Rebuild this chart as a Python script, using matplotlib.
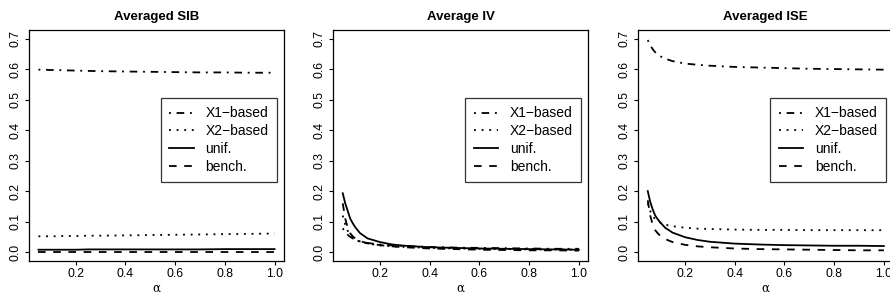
import numpy as np
import matplotlib
matplotlib.use("Agg")
import matplotlib.pyplot as plt

# grid of alpha values
alpha = [0.05, 0.06, 0.07, 0.08, 0.09, 0.10, 0.12, 0.15, 0.20, 0.25,
         0.30, 0.40, 0.50, 0.60, 0.70, 0.80, 0.90, 1.00]

# Averaged SIB
sib_x1 = [0.598, 0.598, 0.598, 0.598, 0.597, 0.597, 0.597, 0.596, 0.595, 0.594,
          0.593, 0.592, 0.591, 0.590, 0.589, 0.589, 0.588, 0.588]
sib_x2 = [0.052, 0.052, 0.052, 0.052, 0.052, 0.052, 0.052, 0.053, 0.053, 0.054,
          0.054, 0.055, 0.056, 0.057, 0.058, 0.059, 0.060, 0.061]
sib_unif = [0.008, 0.008, 0.008, 0.008, 0.008, 0.008, 0.008, 0.008, 0.008, 0.009,
            0.009, 0.009, 0.009, 0.009, 0.009, 0.010, 0.010, 0.010]
sib_bench = [0.001, 0.001, 0.001, 0.001, 0.001, 0.001, 0.001, 0.001, 0.001, 0.001,
             0.001, 0.001, 0.001, 0.001, 0.001, 0.001, 0.001, 0.001]

# Average IV
iv_x1 = [0.078, 0.065, 0.057, 0.050, 0.045, 0.041, 0.035, 0.030, 0.025, 0.022,
         0.020, 0.017, 0.015, 0.014, 0.013, 0.012, 0.011, 0.011]
iv_x2 = [0.120, 0.090, 0.070, 0.055, 0.047, 0.041, 0.034, 0.028, 0.022, 0.019,
         0.017, 0.014, 0.012, 0.011, 0.010, 0.009, 0.009, 0.008]
iv_unif = [0.193, 0.160, 0.135, 0.110, 0.095, 0.082, 0.062, 0.045, 0.033, 0.025,
           0.021, 0.016, 0.014, 0.012, 0.011, 0.010, 0.009, 0.008]
iv_bench = [0.160, 0.110, 0.080, 0.062, 0.052, 0.045, 0.036, 0.029, 0.023, 0.019,
            0.016, 0.012, 0.010, 0.008, 0.007, 0.006, 0.006, 0.005]

# Averaged ISE
ise_x1 = [0.695, 0.678, 0.665, 0.655, 0.648, 0.642, 0.634, 0.626, 0.618, 0.614,
          0.611, 0.607, 0.605, 0.603, 0.601, 0.600, 0.599, 0.598]
ise_x2 = [0.160, 0.135, 0.118, 0.108, 0.101, 0.097, 0.090, 0.085, 0.080, 0.077,
          0.076, 0.074, 0.073, 0.073, 0.072, 0.072, 0.072, 0.072]
ise_unif = [0.200, 0.165, 0.140, 0.120, 0.108, 0.098, 0.080, 0.064, 0.049, 0.040,
            0.034, 0.028, 0.025, 0.023, 0.022, 0.021, 0.021, 0.020]
ise_bench = [0.170, 0.120, 0.090, 0.072, 0.062, 0.054, 0.043, 0.033, 0.024, 0.019,
             0.016, 0.012, 0.010, 0.009, 0.008, 0.007, 0.006, 0.006]

labels = ["X1\u2212based", "X2\u2212based", "unif.", "bench."]
titles = ["Averaged SIB", "Average IV", "Averaged ISE"]

plt.rcParams['font.family'] = ['Liberation Sans', 'DejaVu Sans']
plt.rcParams['lines.scale_dashes'] = False

# R style line types (in points)
u = 1.37
styles = [(0, (u, 3 * u, 4 * u, 3 * u)),   # dotdash
          (0, (u, 3 * u)),                 # dotted
          '-',                             # solid
          (0, (4 * u, 4 * u))]             # dashed

panels = [
    [sib_x1, sib_x2, sib_unif, sib_bench],
    [iv_x1, iv_x2, iv_unif, iv_bench],
    [ise_x1, ise_x2, ise_unif, ise_bench],
]

fig = plt.figure(figsize=(8.9, 2.97), dpi=100)
lefts = [29, 333.3, 638.3]
for i in range(3):
    ax = fig.add_axes([lefts[i] / 890, (297 - 260.7) / 297, 255 / 890, 230.7 / 297])
    for series, ls, lab in zip(panels[i], styles, labels):
        ax.plot(alpha, series, color='black', linestyle=ls, linewidth=1.3, label=lab)
    ax.set_xlim(0.012, 1.038)
    ax.set_ylim(-0.028, 0.728)
    ax.set_xticks([0.2, 0.4, 0.6, 0.8, 1.0])
    ax.set_xticklabels(["0.2", "0.4", "0.6", "0.8", "1.0"])
    ax.set_yticks(np.arange(0, 0.71, 0.1))
    ax.set_yticklabels(["0.0", "0.1", "0.2", "0.3", "0.4", "0.5", "0.6", "0.7"],
                       rotation=90, va='center')
    ax.tick_params(axis='x', length=2.6, width=0.8, pad=2.5, labelsize=8.8)
    ax.tick_params(axis='y', length=2.6, width=0.8, pad=3, labelsize=8.8)
    for sp in ax.spines.values():
        sp.set_linewidth(0.9)
    ax.set_title(titles[i], fontsize=9.5, fontweight='bold', pad=7)
    ax.set_xlabel("\u03b1", fontsize=8.5, family='DejaVu Serif', labelpad=1.5)
    leg = ax.legend(loc='upper left', bbox_to_anchor=(0.518, 0.705), fontsize=10,
                    frameon=True, fancybox=False, borderaxespad=0, borderpad=0.6,
                    handlelength=1.75, handletextpad=0.85, labelspacing=0.28)
    leg.get_frame().set_edgecolor('black')
    leg.get_frame().set_linewidth(0.9)

plt.savefig("out.png", dpi=100)
